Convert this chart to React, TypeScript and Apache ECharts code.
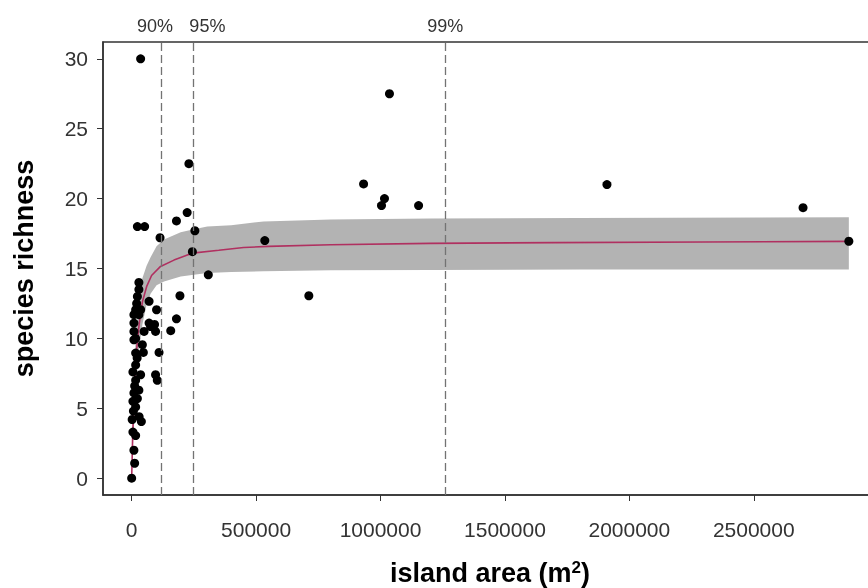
import React, { useEffect, useRef } from 'react';
import * as echarts from 'echarts';

// Observed islands: area (m^2) and species richness
const pointsArea = [
  36000, 23000, 52000, 114000, 180000, 223000, 230000, 254000, 244000, 535000,
  308000, 712000, 194000, 1036000, 932000, 1016000, 1004000, 1153000, 1910000, 2698000,
  2882000, 180000, 157000, 100000, 70000, 76000, 92000, 96000, 110000, 96000,
  103000, 43000, 47000, 39000, 0, 12000, 9000, 16000, 2000, 7000,
  30000, 16000, 23000, 9000, 29000, 16000, 36000, 16000, 16000, 9000,
  16000, 9000, 50000, 9000, 70000, 9000, 29000, 16000, 36000, 23000,
  29000, 29000, 5000, 22000, 12000, 20000, 5000, 5000,
];
const pointsRichness = [
  30, 18, 18, 17.2, 18.4, 19, 22.5, 17.7, 16.2, 17,
  14.55, 13.05, 13.05, 27.5, 21.05, 20, 19.5, 19.5, 21, 19.35,
  16.95, 11.4, 10.55, 12.05, 12.65, 10.85, 11, 10.5, 9, 7.4,
  7, 9.55, 9, 4.05, 0, 1.07, 2, 3.05, 4.2, 4.8,
  4.4, 5.1, 5.7, 6.1, 6.3, 7, 7.4, 8.1, 8.95, 9.9,
  10, 10.5, 10.5, 11.1, 11.1, 11.7, 11.7, 12.05, 12.05, 13,
  13.5, 14, 7.6, 8.6, 6.6, 12.5, 3.3, 5.5,
];

// Fitted curve
const curveArea = [0, 2000, 4000, 8000, 12000, 16000, 22000, 30000, 43000, 60000, 80000, 116000, 170000, 244000, 350000, 450000, 550000, 800000, 1200000, 1700000, 2300000, 2882000];
const curveRichness = [0, 1.5, 3, 5, 6.8, 8.2, 9.6, 11, 12.6, 13.7, 14.5, 15.15, 15.6, 16.1, 16.3, 16.5, 16.58, 16.7, 16.8, 16.85, 16.9, 16.94];

// Confidence band
const bandArea = [2000, 8000, 16000, 30000, 43000, 60000, 76000, 100000, 130000, 197000, 250000, 304000, 400000, 530000, 800000, 1200000, 1800000, 2882000];
const bandLower = [0.8, 3.5, 6.3, 9.3, 11.0, 12.4, 13.2, 13.8, 14.07, 14.43, 14.55, 14.67, 14.75, 14.8, 14.87, 14.9, 14.92, 14.93];
const bandUpper = [2.5, 6.5, 10.0, 12.9, 14.3, 15.2, 15.8, 16.6, 17.07, 17.6, 17.8, 18.0, 18.1, 18.37, 18.5, 18.58, 18.62, 18.66];

// Threshold lines
const thresholdArea = [120000, 246000, 1260000];
const thresholdLabels = ['90%', '95%', '99%'];
const thresholdLabelPadding = [[0, 13, 0, 0], [0, 0, 0, 29], [0, 0, 0, 0]];

const xTicks = [0, 500000, 1000000, 1500000, 2000000, 2500000];
const yTicks = [0, 5, 10, 15, 20, 25, 30];

const FONT = '"Liberation Sans", Arial, sans-serif';

export default function App() {
  const ref = useRef<HTMLDivElement>(null);
  useEffect(() => {
    const chart = echarts.init(ref.current!, null, { renderer: 'svg' });
    const option: any = {
      animation: false,
      textStyle: { fontFamily: FONT },
      grid: {
        left: 103, right: -9, top: 42, bottom: 93,
        outerBoundsMode: 'none', containLabel: false,
        show: true, borderColor: '#333', borderWidth: 1.5, backgroundColor: 'transparent',
      },
      xAxis: {
        type: 'value', min: -115200, max: 2995200,
        axisLine: { show: true, onZero: false, lineStyle: { color: '#333', width: 1.5 } },
        axisTick: { show: true, customValues: xTicks, length: 6, lineStyle: { color: '#333' } },
        axisLabel: {
          customValues: xTicks, margin: 24, fontSize: 21, color: '#333', fontFamily: FONT,
          formatter: (v: number) => String(v),
        },
        splitLine: { show: false },
        name: '{t|island area (m}{s|2}{t|)}',
        nameLocation: 'middle',
        nameGap: 64,
        nameTextStyle: {
          rich: {
            t: { fontSize: 27, fontWeight: 'bold', color: '#000', fontFamily: FONT },
            s: { fontSize: 17, fontWeight: 'bold', color: '#000', fontFamily: FONT, verticalAlign: 'top' },
          },
        },
      },
      yAxis: {
        type: 'value', min: -1.2, max: 31.2,
        axisLine: { show: true, onZero: false, lineStyle: { color: '#333', width: 1.5 } },
        axisTick: { show: true, customValues: yTicks, length: 6, lineStyle: { color: '#333' } },
        axisLabel: { customValues: yTicks, margin: 15, fontSize: 21, color: '#333', fontFamily: FONT },
        splitLine: { show: false },
        name: 'species richness',
        nameLocation: 'middle',
        nameGap: 66,
        nameTextStyle: { fontSize: 27, fontWeight: 'bold', color: '#000', fontFamily: FONT },
      },
      series: [
        {
          type: 'custom', name: 'band', silent: true, z: 1,
          data: [[0, 0]],
          renderItem: (_params: any, api: any) => {
            const upper = bandArea.map((a, i) => api.coord([a, bandUpper[i]]));
            const lower = bandArea.map((a, i) => api.coord([a, bandLower[i]])).reverse();
            return {
              type: 'polygon',
              shape: { points: upper.concat(lower) },
              style: { fill: '#b3b3b3', stroke: 'none' },
            };
          },
        },
        {
          type: 'line', name: 'thresholds', data: [], symbol: 'none',
          markLine: {
            silent: true, symbol: ['none', 'none'],
            lineStyle: { color: '#737373', type: [8, 4], width: 1.3 },
            label: { position: 'end', distance: 7, fontSize: 18, color: '#333', fontFamily: FONT },
            data: thresholdArea.map((a, i) => ({
              xAxis: a,
              label: { formatter: thresholdLabels[i], padding: thresholdLabelPadding[i] },
            })),
          },
          z: 2,
        },
        {
          type: 'line', name: 'fit', symbol: 'none', smooth: false,
          data: curveArea.map((a, i) => [a, curveRichness[i]]),
          lineStyle: { color: '#b03060', width: 1.6 }, z: 3,
        },
        {
          type: 'scatter', name: 'islands', symbolSize: 9,
          data: pointsArea.map((a, i) => [a, pointsRichness[i]]),
          itemStyle: { color: '#000', opacity: 1 }, z: 4,
        },
      ],
    };
    chart.setOption(option);
    return () => chart.dispose();
  }, []);
  return <div ref={ref} style={{ position: 'fixed', left: 0, top: 0, width: 868, height: 588 }} />;
}
